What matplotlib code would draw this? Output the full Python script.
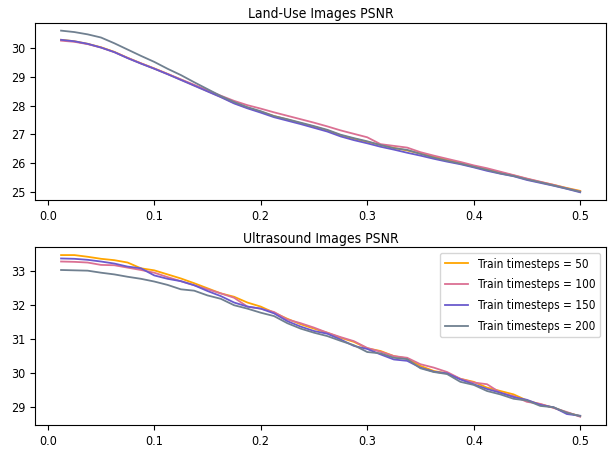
import matplotlib
matplotlib.use("Agg")
import matplotlib.pyplot as plt
import numpy as np

# x: test noise levels
x = np.arange(1, 41) * 0.0125

labels = ['Train timesteps = 50', 'Train timesteps = 100',
          'Train timesteps = 150', 'Train timesteps = 200']
colors = ['orange', 'palevioletred', 'slateblue', 'slategray']

# Land-Use PSNR
land_50 = [30.30, 30.25, 30.16, 30.04, 29.88, 29.67, 29.48, 29.30, 29.11, 28.91,
           28.71, 28.51, 28.31, 28.10, 27.93, 27.79, 27.64, 27.52, 27.39, 27.27,
           27.14, 26.97, 26.85, 26.74, 26.63, 26.53, 26.44, 26.33, 26.22, 26.11,
           26.00, 25.89, 25.78, 25.67, 25.57, 25.45, 25.34, 25.24, 25.13, 25.03]
land_100 = [30.27, 30.23, 30.15, 30.03, 29.87, 29.67, 29.48, 29.30, 29.11, 28.92,
            28.73, 28.54, 28.35, 28.17, 28.02, 27.90, 27.77, 27.65, 27.53, 27.41,
            27.28, 27.14, 27.02, 26.90, 26.66, 26.60, 26.54, 26.38, 26.26, 26.15,
            26.04, 25.92, 25.82, 25.70, 25.58, 25.46, 25.35, 25.24, 25.12, 25.01]
land_150 = [30.30, 30.25, 30.16, 30.03, 29.87, 29.66, 29.47, 29.29, 29.10, 28.90,
            28.70, 28.50, 28.30, 28.08, 27.91, 27.76, 27.60, 27.48, 27.36, 27.23,
            27.10, 26.93, 26.80, 26.69, 26.57, 26.47, 26.36, 26.26, 26.15, 26.05,
            25.96, 25.85, 25.73, 25.63, 25.54, 25.41, 25.31, 25.21, 25.10, 24.98]
land_200 = [30.62, 30.57, 30.49, 30.38, 30.18, 29.96, 29.74, 29.53, 29.29, 29.07,
            28.82, 28.58, 28.34, 28.13, 27.95, 27.81, 27.64, 27.53, 27.41, 27.29,
            27.16, 26.99, 26.87, 26.76, 26.63, 26.52, 26.46, 26.32, 26.19, 26.08,
            25.98, 25.87, 25.76, 25.64, 25.55, 25.43, 25.33, 25.22, 25.11, 25.00]

# Ultrasound PSNR
us_50 = [33.47, 33.47, 33.42, 33.36, 33.32, 33.25, 33.08, 33.02, 32.90, 32.78,
         32.64, 32.49, 32.34, 32.24, 32.07, 31.95, 31.77, 31.59, 31.43, 31.30,
         31.18, 31.03, 30.91, 30.72, 30.64, 30.49, 30.42, 30.20, 30.05, 29.98,
         29.82, 29.73, 29.56, 29.46, 29.36, 29.18, 29.07, 28.97, 28.82, 28.72]
us_100 = [33.28, 33.27, 33.25, 33.18, 33.17, 33.10, 33.03, 32.95, 32.82, 32.70,
          32.58, 32.46, 32.34, 32.21, 31.95, 31.89, 31.79, 31.57, 31.46, 31.33,
          31.18, 31.05, 30.93, 30.73, 30.62, 30.49, 30.44, 30.25, 30.15, 30.02,
          29.82, 29.71, 29.66, 29.41, 29.31, 29.14, 29.08, 28.96, 28.84, 28.70]
us_150 = [33.37, 33.36, 33.33, 33.28, 33.22, 33.13, 33.08, 32.87, 32.77, 32.70,
          32.58, 32.41, 32.26, 32.07, 31.95, 31.89, 31.75, 31.52, 31.36, 31.23,
          31.15, 30.98, 30.79, 30.70, 30.54, 30.39, 30.35, 30.15, 30.03, 29.98,
          29.80, 29.66, 29.52, 29.41, 29.28, 29.20, 29.05, 28.98, 28.78, 28.73]
us_200 = [33.03, 33.02, 33.01, 32.95, 32.90, 32.83, 32.77, 32.69, 32.59, 32.46,
          32.42, 32.28, 32.18, 31.99, 31.89, 31.77, 31.67, 31.46, 31.30, 31.18,
          31.08, 30.94, 30.81, 30.61, 30.57, 30.44, 30.40, 30.13, 30.02, 29.96,
          29.73, 29.64, 29.46, 29.36, 29.23, 29.18, 29.02, 28.98, 28.82, 28.72]

land = [land_50, land_100, land_150, land_200]
us = [us_50, us_100, us_150, us_200]

plt.rcParams['font.family'] = ['DejaVu Sans']
plt.rcParams['font.stretch'] = 'condensed'
plt.rcParams['font.size'] = 9
fig, (ax1, ax2) = plt.subplots(2, 1, figsize=(6.16, 4.51), dpi=100)
fig.subplots_adjust(left=0.057, right=0.984, top=0.95, bottom=0.058, hspace=0.262)

for i in range(4):
    ax1.plot(x, land[i], color=colors[i], linewidth=1.3, label=labels[i])
    ax2.plot(x, us[i], color=colors[i], linewidth=1.3, label=labels[i])

ax1.set_title('Land-Use Images PSNR', fontsize=10, pad=3)
ax2.set_title('Ultrasound Images PSNR', fontsize=10, pad=3)
ax2.legend(loc='upper right', fontsize=8.5, labelspacing=0.65)

fig.savefig('out.png', dpi=100)
